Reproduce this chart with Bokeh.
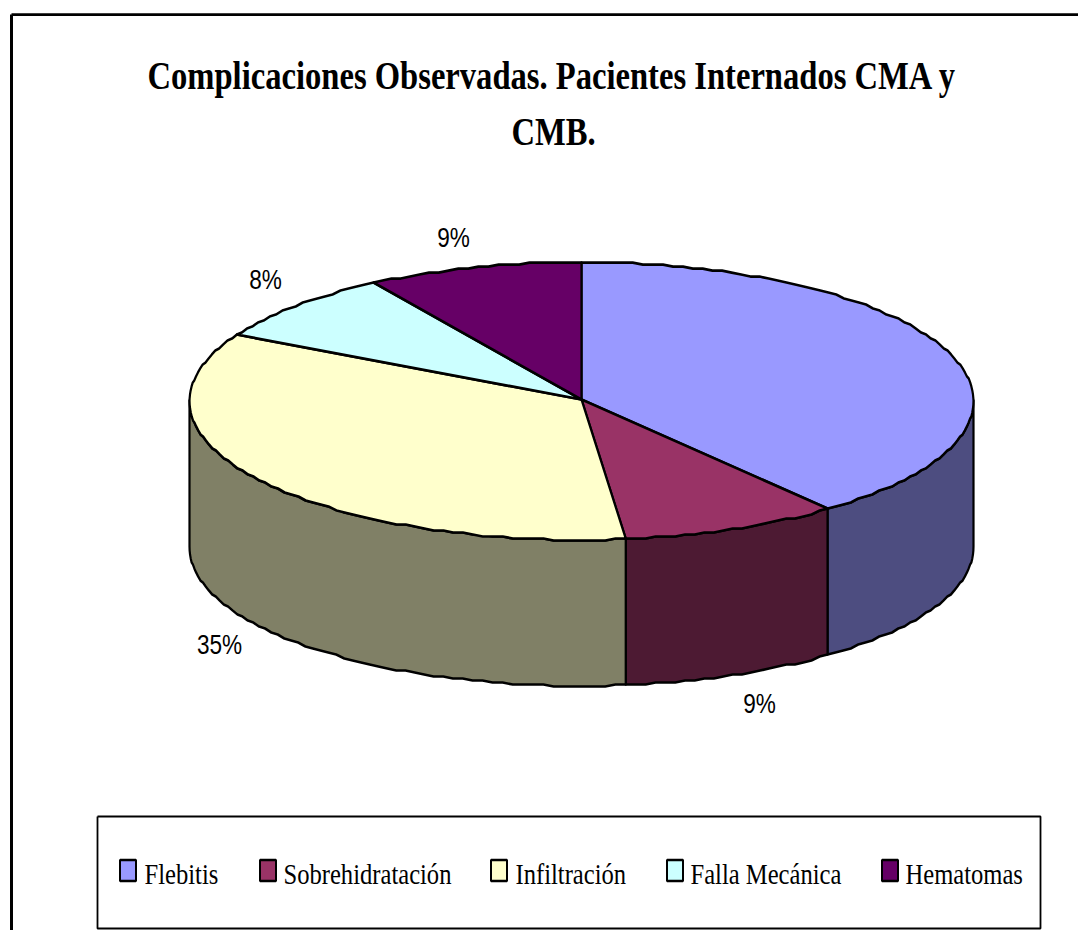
import math
from bokeh.plotting import figure
from bokeh.models import Range1d, ColumnDataSource
from bokeh.core.properties import value
from bokeh.embed import file_html
from bokeh.resources import INLINE

# ---- data ----
title_lines = ["Complicaciones Observadas. Pacientes Internados CMA y", "CMB."]
categories = ["Flebitis", "Sobrehidratación", "Infiltración", "Falla Mecánica", "Hematomas"]
percent = [39.2, 9.0, 34.7, 8.2, 8.9]
top_colors = ["#9999FF", "#993366", "#FFFFCC", "#CCFFFF", "#660066"]
side_colors = ["#4D4D80", "#4D1A33", "#808066", "#668080", "#330033"]

# ---- layout (reference pixels) ----
WIN_W, WIN_H = 1078, 930
STRETCH = 1.45           # the reference is tall-stretched: text is condensed
CX, CY, RX, RY, DEPTH = 581, 400.5, 392, 139, 146
label_texts = ["9%", "35%", "8%", "9%"]
label_x = [759, 219, 265, 453]
label_y = [703, 644, 279, 237]
swatch_x = [119, 259, 490, 666, 881]
legend_text_x = [144, 283, 515, 690, 905]

W = WIN_W
H = round(WIN_H / STRETCH)

p = figure(width=W, height=H, x_range=Range1d(0, WIN_W), y_range=Range1d(WIN_H, 0),
           x_axis_location=None, y_axis_location=None, toolbar_location=None,
           output_backend="svg", min_border=0, outline_line_color=None,
           background_fill_color="white", border_fill_color="white")
p.grid.visible = False
# this rule reaches two nested elements (host and canvas), so each gets the square root
p.stylesheets = [":host { transform: scaleY(%.5f); transform-origin: top left; }" % math.sqrt(WIN_H / H)]


def pt(a):
    # a: degrees clockwise from the top of the ellipse; y snapped to mimic the coarse outline
    r = math.radians(a)
    return CX + RX * math.sin(r), round((CY - RY * math.cos(r)) / 2) * 2


def arc(a0, a1):
    n = max(2, round(abs(a1 - a0) / 1.5))
    return [pt(a0 + (a1 - a0) * i / n) for i in range(n + 1)]


# frame (left and top only: the rest is cropped)
p.line([11, 11], [WIN_H, 14], line_color="black", line_width=3)
p.line([11, WIN_W], [14, 14], line_color="black", line_width=2.4)

# slices
total = sum(percent)
edges = [0]
for v in percent:
    edges.append(edges[-1] + v / total * 360)

# walls (front half only)
for i in range(len(percent)):
    a0, a1 = max(edges[i], 90), min(edges[i + 1], 270)
    if a1 <= a0:
        continue
    upper = arc(a0, a1)
    xs = [q[0] for q in upper] + [q[0] for q in reversed(upper)]
    ys = [q[1] for q in upper] + [q[1] + DEPTH for q in reversed(upper)]
    p.patch(xs, ys, fill_color=side_colors[i], line_color="black", line_width=2.2, line_join="round")

# top faces
for i in range(len(percent)):
    pts = arc(edges[i], edges[i + 1])
    xs = [CX] + [q[0] for q in pts]
    ys = [CY - 1.5] + [q[1] for q in pts]
    p.patch(xs, ys, fill_color=top_colors[i], line_color="black", line_width=2.2, line_join="round")

# percent labels
p.text(x=label_x, y=label_y, text=label_texts, text_font=value("Liberation Sans"),
       text_font_size="22.6px", text_align="center", text_baseline="middle", text_color="black")

# title
p.text(x=[551.5, 553], y=[75, 131], text=title_lines, text_font=value("Liberation Serif"),
       text_font_style="bold", text_font_size="32.6px", text_align="center",
       text_baseline="alphabetic", text_color="black")

# legend
p.line([97, 1040, 1040, 97, 97], [816, 816, 928, 928, 816], line_color="black", line_width=1.8)
src = ColumnDataSource(dict(x=[s + 8.5 for s in swatch_x], y=[870] * 5, c=top_colors))
p.rect(x="x", y="y", width=16, height=21, source=src, fill_color="c", line_color="black", line_width=2)
p.text(x=legend_text_x, y=[873] * 5, text=categories, text_font=value("Liberation Serif"),
       text_font_size="24.6px", text_align="left", text_baseline="alphabetic", text_color="black")

open("out.html", "w").write(file_html(p, INLINE))
